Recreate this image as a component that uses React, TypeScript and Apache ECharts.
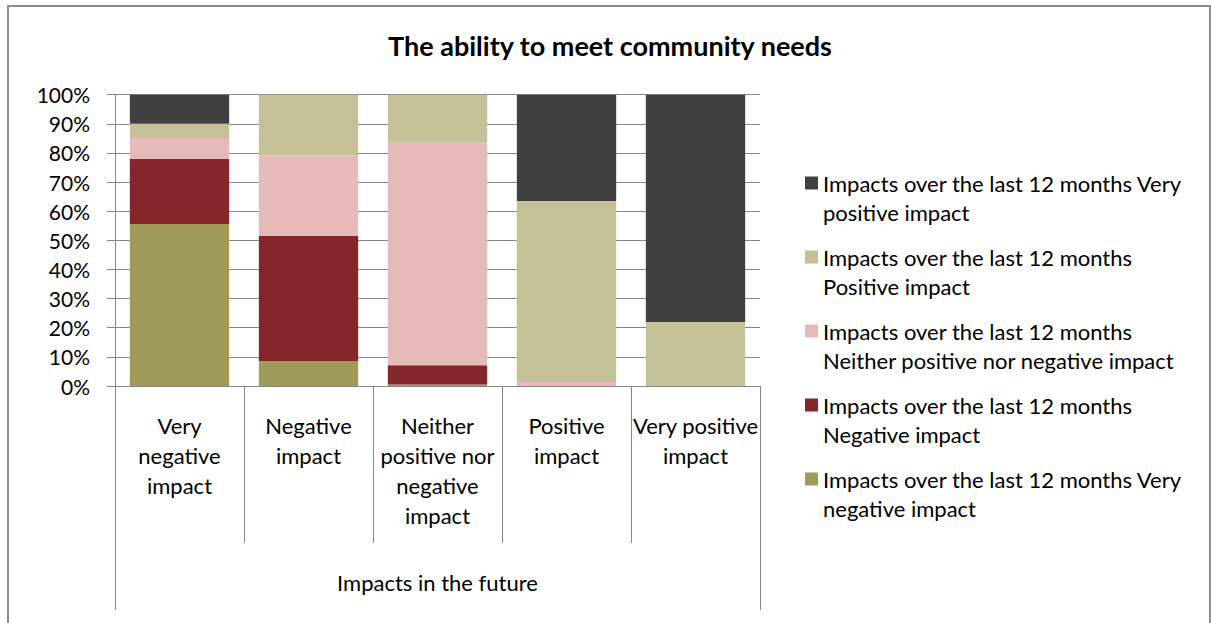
import React, { useEffect, useRef } from "react";
import * as echarts from "echarts";

const categories = [
  "Very\nnegative\nimpact",
  "Negative\nimpact",
  "Neither\npositive nor\nnegative\nimpact",
  "Positive\nimpact",
  "Very positive\nimpact",
];
const groupLabel = ["Impacts in the future"];
const yTicks = [0, 10, 20, 30, 40, 50, 60, 70, 80, 90, 100];

const seriesNames = [
  "Impacts over the last 12 months Very negative impact",
  "Impacts over the last 12 months Negative impact",
  "Impacts over the last 12 months Neither positive nor negative impact",
  "Impacts over the last 12 months Positive impact",
  "Impacts over the last 12 months Very positive impact",
];
const legendLabels = [
  "Impacts over the last 12 months Very\nnegative impact",
  "Impacts over the last 12 months\nNegative impact",
  "Impacts over the last 12 months\nNeither positive nor negative impact",
  "Impacts over the last 12 months\nPositive impact",
  "Impacts over the last 12 months Very\npositive impact",
];

const veryNegative = [55.6, 8.6, 0.5, 0, 0];
const negative = [22.4, 42.9, 6.6, 0, 0];
const neither = [7.1, 27.6, 76.4, 1.4, 0];
const positive = [4.9, 20.9, 16.5, 62.1, 22.0];
const veryPositive = [10.0, 0, 0, 36.5, 78.0];

const seriesValues = [veryNegative, negative, neither, positive, veryPositive];
const colors = ["#A19B5A", "#85272A", "#E6BAB9", "#C4C197", "#404040"];

const FONT = "Lato";
const GRAY = "#878787";

export default function App() {
  const ref = useRef<HTMLDivElement>(null);
  useEffect(() => {
    if (!ref.current) return;
    const chart = echarts.init(ref.current, undefined, { renderer: "svg" });
    const legendMap: Record<string, string> = {};
    seriesNames.forEach((n, i) => (legendMap[n] = "\n" + legendLabels[i]));
    chart.setOption({
      animation: false,
      backgroundColor: "#ffffff",
      title: {
        text: "The ability to meet community needs",
        left: 610,
        textAlign: "center",
        top: 32,
        padding: 0,
        textStyle: { fontFamily: FONT, fontSize: 27, fontWeight: "bold", color: "#000" },
      },
      graphic: [
        {
          type: "rect",
          shape: { x: 8, y: 6, width: 1202, height: 640 },
          style: { fill: "none", stroke: "#8C8C8C", lineWidth: 2 },
          silent: true,
        },
      ],
      legend: {
        orient: "vertical",
        left: 805,
        top: 139.5,
        padding: 0,
        itemWidth: 13,
        itemHeight: 13,
        itemGap: -13,
        icon: "rect",
        data: seriesNames.slice().reverse(),
        formatter: (name: string) => legendMap[name],
        textStyle: {
          fontFamily: FONT,
          fontSize: 22,
          color: "#000",
          lineHeight: 29,
        },
      },
      grid: { left: 115, right: 451, top: 94.7, bottom: 237, containLabel: false },
      xAxis: [
        {
          type: "category",
          data: categories,
          position: "bottom",
          axisLine: { show: true, lineStyle: { color: GRAY, width: 1 } },
          axisTick: { show: true, length: 157, alignWithLabel: false, interval: 0, lineStyle: { color: GRAY, width: 1 } },
          axisLabel: {
            interval: 0,
            margin: 24,
            fontFamily: FONT,
            fontSize: 22,
            lineHeight: 30,
            color: "#000",
            verticalAlign: "top",
          },
          splitLine: { show: false },
        },
        {
          type: "category",
          data: groupLabel,
          position: "bottom",
          axisLine: { show: false },
          axisTick: { show: true, length: 224, alignWithLabel: false, lineStyle: { color: GRAY, width: 1 } },
          axisLabel: {
            interval: 0,
            margin: 181,
            fontFamily: FONT,
            fontSize: 22,
            lineHeight: 30,
            color: "#000",
            verticalAlign: "top",
          },
          splitLine: { show: false },
        },
      ],
      yAxis: {
        type: "value",
        min: yTicks[0],
        max: yTicks[yTicks.length - 1],
        interval: 10,
        axisLine: { show: true, lineStyle: { color: GRAY, width: 1 } },
        axisTick: { show: true, inside: false, length: 8, lineStyle: { color: GRAY, width: 1 } },
        axisLabel: {
          margin: 25,
          fontFamily: FONT,
          fontSize: 21,
          color: "#000",
          formatter: "{value}%",
        },
        splitLine: { show: true, lineStyle: { color: GRAY, width: 1 } },
      },
      series: seriesValues.map((vals, i) => ({
        name: seriesNames[i],
        type: "bar",
        stack: "total",
        xAxisIndex: 0,
        barCategoryGap: "23%",
        itemStyle: { color: colors[i] },
        emphasis: { disabled: true },
        data: vals,
      })),
    });
    return () => chart.dispose();
  }, []);
  return (
    <div
      ref={ref}
      style={{ position: "fixed", left: 0, top: 0, width: 1211, height: 623, background: "#fff" }}
    />
  );
}
